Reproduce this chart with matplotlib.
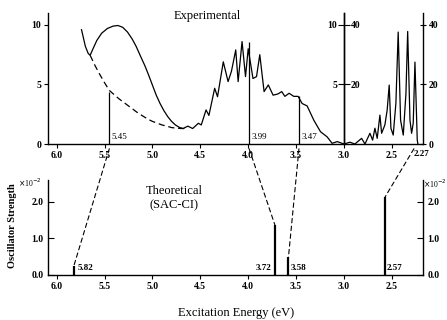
import matplotlib
matplotlib.use("Agg")
import matplotlib.pyplot as plt
from matplotlib.patches import ConnectionPatch

plt.rcParams['font.family'] = ['Liberation Serif', 'DejaVu Serif']

# experimental spectrum above 3.0 eV (left scale)
exp_e = [5.74, 5.72, 5.70, 5.67, 5.65, 5.62, 5.58, 5.53, 5.47, 5.41, 5.36, 5.31,
         5.26, 5.21, 5.17, 5.12, 5.08, 5.04, 5.00, 4.96, 4.92, 4.88, 4.84, 4.80,
         4.76, 4.72, 4.68, 4.63, 4.58, 4.52, 4.49, 4.44, 4.41, 4.35, 4.32, 4.26,
         4.21, 4.175, 4.13, 4.105, 4.064, 4.028, 4.00, 3.95, 3.913, 3.879, 3.834,
         3.79, 3.74, 3.69, 3.65, 3.617, 3.573, 3.524, 3.479, 3.437, 3.385, 3.315,
         3.245, 3.176, 3.124, 3.07, 3.00]
exp_v = [9.6, 8.9, 8.2, 7.6, 7.45, 8.0, 8.7, 9.3, 9.7, 9.9, 9.95, 9.8,
         9.4, 8.8, 8.2, 7.3, 6.6, 5.8, 4.95, 4.1, 3.4, 2.8, 2.3, 1.9,
         1.6, 1.4, 1.3, 1.5, 1.3, 1.74, 1.6, 2.86, 2.4, 4.68, 3.97, 6.9,
         5.24, 6.1, 7.9, 5.24, 8.6, 5.66, 8.0, 5.5, 5.66, 7.5, 4.4,
         4.96, 4.1, 4.2, 4.4, 4.0, 4.26, 4.0, 4.0, 3.4, 3.2, 2.0,
         1.03, 0.6, 0.06, 0.2, 0.0]

# experimental spectrum below 3.0 eV (x4 scale, right axis)
ir_e = [3.00, 2.938, 2.886, 2.816, 2.781, 2.729, 2.701, 2.677, 2.653, 2.625,
        2.607, 2.573, 2.549, 2.528, 2.51, 2.486, 2.458, 2.434, 2.409, 2.381,
        2.353, 2.335, 2.311, 2.294, 2.277, 2.259, 2.235, 2.228]
ir_v = [0.0, 0.6, 0.0, 1.9, 0.0, 3.6, 1.3, 5.3, 1.9, 9.7,
        3.6, 6.4, 11.4, 19.8, 5.3, 3.0, 13.7, 37.6, 8.0, 3.0,
        17.0, 37.8, 8.0, 3.6, 7.0, 27.5, 1.3, 0.0]

# dashed background under the 5.4 eV band
base_e = [5.65, 5.60, 5.55, 5.50, 5.45, 5.40, 5.35, 5.30, 5.25, 5.20, 5.15,
          5.10, 5.05, 5.00, 4.95, 4.90, 4.85, 4.80, 4.75, 4.70, 4.66]
base_v = [7.45, 6.6, 5.85, 5.15, 4.5, 4.15, 3.8, 3.5, 3.2, 2.9, 2.6,
          2.35, 2.1, 1.9, 1.75, 1.6, 1.5, 1.38, 1.33, 1.3, 1.3]

# assigned experimental bands
exp_peaks = [5.45, 3.99, 3.47]
exp_peak_h = [4.4, 8.6, 4.0]
exp_links = [5.45, 3.99, 3.47, 2.27]

# SAC-CI oscillator strengths (x10^-2)
sac_e = [5.82, 3.72, 3.58, 2.57]
sac_f = [0.25, 1.36, 0.48, 2.14]

x_ticks = [6.0, 5.5, 5.0, 4.5, 4.0, 3.5, 3.0, 2.5]
x_labels = ['6.0', '5.5', '5.0', '4.5', '4.0', '3.5', '3.0', '2.5']

xlim = (6.09, 2.175)
W, H = 447, 320
fig = plt.figure(figsize=(W / 100, H / 100), dpi=100)

top_pos = [48 / W, 1 - 144 / H, 375 / W, 131 / H]
bot_pos = [48 / W, 1 - 275 / H, 375 / W, 95 / H]
TS = 7  # tick label size


def bold_ticks(ax):
    for lab in ax.get_xticklabels() + ax.get_yticklabels():
        lab.set_fontweight('bold')


# ---- experimental panel
ax1 = fig.add_axes(top_pos)
ax1.plot(exp_e, exp_v, color='k', lw=0.9)
ax1.plot(base_e, base_v, color='k', lw=0.9, ls=(0, (5, 3)))
ax1.vlines(exp_peaks, 0, exp_peak_h, color='k', lw=0.9)
ax1.set_xlim(*xlim)
ax1.set_ylim(0, 11)
ax1.set_xticks(x_ticks)
ax1.set_xticklabels(x_labels)
ax1.set_yticks([0, 5, 10])
ax1.tick_params(direction='out', length=3, width=0.8, pad=2, labelsize=TS)
bold_ticks(ax1)
for s in ['top', 'right']:
    ax1.spines[s].set_visible(False)
for s in ['left', 'bottom']:
    ax1.spines[s].set_linewidth(1.0)

for e, h in zip(exp_peaks, exp_peak_h):
    ax1.text(e - 0.025, 0.25, f'{e:.2f}', fontsize=6.5, ha='left', va='bottom')
ax1.text(2.19, -0.8, '2.27', fontsize=6.5, fontweight='bold', ha='center', va='center')

# x4 region, right spine
ax_ir = ax1.twinx()
ax_ir.plot(ir_e, ir_v, color='k', lw=0.9)
ax_ir.set_xlim(*xlim)
ax_ir.set_ylim(0, 44)
ax_ir.set_yticks([0, 20, 40])
ax_ir.tick_params(direction='inout', length=4, width=0.8, pad=2, labelsize=TS)
bold_ticks(ax_ir)
for s in ['top', 'left', 'bottom']:
    ax_ir.spines[s].set_visible(False)
ax_ir.spines['right'].set_linewidth(1.0)

# divider axis at 3.0 eV: left scale on its left, x4 scale on its right
ax_dl = fig.add_axes(top_pos)
ax_dl.patch.set_visible(False)
ax_dl.set_xlim(*xlim)
ax_dl.set_ylim(0, 11)
ax_dl.set_yticks([5, 10])
ax_dl.set_xticks([])
for s in ['top', 'right', 'bottom']:
    ax_dl.spines[s].set_visible(False)
ax_dl.spines['left'].set_position(('data', 3.0))
ax_dl.spines['left'].set_linewidth(1.0)
ax_dl.tick_params(direction='out', length=4, width=0.8, pad=1, labelsize=TS)
bold_ticks(ax_dl)

ax_dr = fig.add_axes(top_pos)
ax_dr.patch.set_visible(False)
ax_dr.set_xlim(*xlim)
ax_dr.set_ylim(0, 44)
ax_dr.yaxis.tick_right()
ax_dr.set_yticks([20, 40])
ax_dr.set_xticks([])
for s in ['top', 'left', 'bottom']:
    ax_dr.spines[s].set_visible(False)
ax_dr.spines['right'].set_position(('data', 3.0))
ax_dr.spines['right'].set_linewidth(1.0)
ax_dr.tick_params(direction='out', length=4, width=0.8, pad=1, labelsize=TS)
bold_ticks(ax_dr)

# ---- theoretical panel
ax2 = fig.add_axes(bot_pos)
ax2.vlines(sac_e, 0, sac_f, color='k', lw=1.6)
ax2.set_xlim(*xlim)
ax2.set_ylim(0, 2.6)
ax2.set_xticks(x_ticks)
ax2.set_xticklabels(x_labels)
ax2.set_yticks([0, 1, 2])
ax2.set_yticklabels(['0.0', '1.0', '2.0'])
ax2.tick_params(axis='x', direction='out', length=3, width=0.8, pad=2, labelsize=TS)
ax2.tick_params(axis='y', direction='in', length=4, width=0.8, pad=3, labelsize=TS)
bold_ticks(ax2)
for s in ['top', 'right']:
    ax2.spines[s].set_visible(False)
for s in ['left', 'bottom']:
    ax2.spines[s].set_linewidth(1.0)

ax2r = ax2.twinx()
ax2r.set_ylim(0, 2.6)
ax2r.set_yticks([0, 1, 2])
ax2r.set_yticklabels(['0.0', '1.0', '2.0'])
ax2r.tick_params(direction='in', length=4, width=0.8, pad=3, labelsize=TS)
bold_ticks(ax2r)
for s in ['top', 'left', 'bottom']:
    ax2r.spines[s].set_visible(False)
ax2r.spines['right'].set_linewidth(1.0)

ax2.text(5.78, 0.08, '5.82', fontsize=6.5, fontweight='bold', ha='left', va='bottom')
ax2.text(3.76, 0.08, '3.72', fontsize=6.5, fontweight='bold', ha='right', va='bottom')
ax2.text(3.555, 0.08, '3.58', fontsize=6.5, fontweight='bold', ha='left', va='bottom')
ax2.text(2.55, 0.08, '2.57', fontsize=6.5, fontweight='bold', ha='left', va='bottom')

# dashed correlation lines experiment -> theory
for e_top, e_bot, f_bot in zip(exp_links, sac_e, sac_f):
    con = ConnectionPatch(xyA=(e_top, -0.4), coordsA=ax1.transData,
                          xyB=(e_bot, f_bot), coordsB=ax2.transData,
                          color='k', lw=0.8, ls=(0, (4, 3)))
    fig.add_artist(con)

# ---- labels
fig.text(0.463, 0.95, 'Experimental', fontsize=9, ha='center', va='center')
fig.text(0.389, 0.404, 'Theoretical', fontsize=9, ha='center', va='center')
fig.text(0.389, 0.359, '(SAC-CI)', fontsize=9, ha='center', va='center')
fig.text(0.029, 0.294, 'Oscillator Strength', fontsize=7.5, fontweight='bold',
         rotation=90, ha='center', va='center')
fig.text(0.528, 0.022, 'Excitation Energy (eV)', fontsize=9, ha='center', va='center')
fig.text(0.067, 0.428, r'$\times$10$^{-2}$', fontsize=5.5, ha='center', va='center')
fig.text(0.973, 0.425, r'$\times$10$^{-2}$', fontsize=5.5, ha='center', va='center')

fig.savefig('out.png', dpi=100)
